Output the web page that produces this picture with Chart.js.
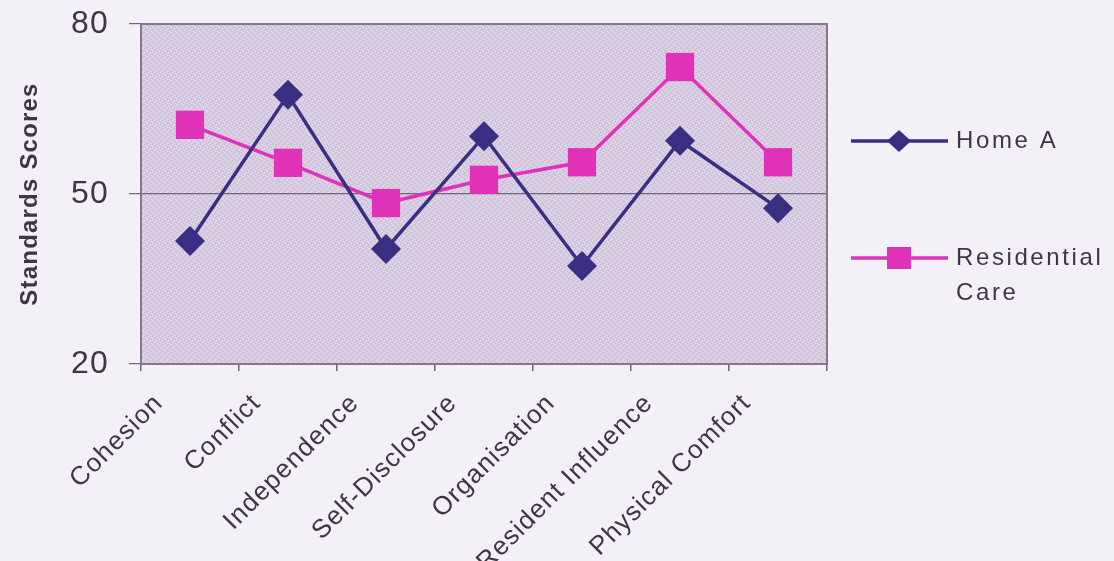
<!DOCTYPE html>
<html>
<head>
<meta charset="utf-8">
<script src="https://cdn.jsdelivr.net/npm/chart.js@4.4.1/dist/chart.umd.min.js"></script>
<style>
  html, body { margin: 0; padding: 0; background: #f3f0f8; }
  #wrap { width: 1114px; height: 561px; }
</style>
</head>
<body>
<div id="wrap"><canvas id="c" width="1114" height="561"></canvas></div>
<script>
// Scale categories and the two series of standard scores
const categories = ['Cohesion', 'Conflict', 'Independence', 'Self-Disclosure', 'Organisation', 'Resident Influence', 'Physical Comfort'];
const homeA = [41.7, 67.5, 40.3, 60.2, 37.3, 59.4, 47.5];
const residentialCare = [62.2, 55.5, 48.4, 52.5, 55.6, 72.4, 55.6];
const seriesNames = ['Home A', 'Residential Care'];
const yTicks = [20, 50, 80];

const textColor = '#413447';
const navy = '#392e82';
const pink = '#e031b9';
const fontFamily = '"Liberation Sans", Arial, sans-serif';

// Small stippled tile for the plot area fill
function makeStipple(ctx) {
  const t = document.createElement('canvas');
  t.width = 6; t.height = 6;
  const g = t.getContext('2d');
  g.fillStyle = '#d7cbe1';
  g.fillRect(0, 0, 6, 6);
  const dark = [[0,0],[3,1],[1,3],[4,4],[5,2],[2,5]];
  const light = [[1,1],[4,0],[0,4],[3,3],[5,5],[2,2]];
  g.fillStyle = '#c8b9d3';
  dark.forEach(p => g.fillRect(p[0], p[1], 1, 1));
  g.fillStyle = '#e6ddee';
  light.forEach(p => g.fillRect(p[0], p[1], 1, 1));
  return ctx.createPattern(t, 'repeat');
}

const plotFrame = {
  id: 'plotFrame',
  beforeDraw(chart) {
    const { ctx, chartArea: a } = chart;
    // slightly spaced lettering for all axis text
    ctx.letterSpacing = '1.2px';
    ctx.save();
    ctx.fillStyle = makeStipple(ctx);
    ctx.fillRect(a.left, a.top, a.right - a.left, a.bottom - a.top);
    ctx.restore();
  },
  beforeDatasetsDraw(chart) {
    const { ctx, chartArea: a } = chart;
    ctx.save();
    ctx.strokeStyle = '#85768d';
    ctx.lineWidth = 2;
    ctx.strokeRect(a.left, a.top, a.right - a.left, a.bottom - a.top);
    ctx.restore();
  }
};

// Legend drawn at the right, wrapping long series names word by word
const sideLegend = {
  id: 'sideLegend',
  afterDraw(chart) {
    const { ctx } = chart;
    const rows = [141, 258];
    const lineX0 = 851, lineX1 = 948, markX = 899, textX = 956, lineGap = 35, maxW = 156;
    ctx.save();
    chart.data.datasets.forEach((ds, i) => {
      const y = rows[i];
      ctx.strokeStyle = ds.borderColor;
      ctx.lineWidth = 3.5;
      ctx.beginPath();
      ctx.moveTo(lineX0, y);
      ctx.lineTo(lineX1, y);
      ctx.stroke();
      ctx.fillStyle = ds.pointBackgroundColor;
      if (ds.pointStyle === 'rectRot') {
        ctx.beginPath();
        ctx.moveTo(markX, y - 11);
        ctx.lineTo(markX + 12, y);
        ctx.lineTo(markX, y + 11);
        ctx.lineTo(markX - 12, y);
        ctx.closePath();
        ctx.fill();
      } else {
        ctx.fillRect(markX - 12, y - 11, 24, 22);
      }
      ctx.font = '24px ' + fontFamily;
      ctx.letterSpacing = '2.6px';
      ctx.fillStyle = textColor;
      ctx.textAlign = 'left';
      ctx.textBaseline = 'middle';
      const words = ds.label.split(' ');
      const lines = [];
      let cur = '';
      words.forEach(w => {
        const test = cur ? cur + ' ' + w : w;
        if (cur && ctx.measureText(test).width > maxW) { lines.push(cur); cur = w; }
        else cur = test;
      });
      if (cur) lines.push(cur);
      lines.forEach((ln, k) => ctx.fillText(ln, textX, y + k * lineGap));
    });
    ctx.restore();
  }
};

new Chart(document.getElementById('c'), {
  type: 'line',
  data: {
    labels: categories,
    datasets: [
      {
        label: seriesNames[0],
        data: homeA,
        borderColor: navy,
        backgroundColor: navy,
        pointBackgroundColor: navy,
        pointBorderColor: navy,
        borderWidth: 3.5,
        pointStyle: 'rectRot',
        pointRadius: 15,
        pointBorderWidth: 0,
        tension: 0
      },
      {
        label: seriesNames[1],
        data: residentialCare,
        borderColor: pink,
        backgroundColor: pink,
        pointBackgroundColor: pink,
        pointBorderColor: pink,
        borderWidth: 3.5,
        pointStyle: 'rect',
        pointRadius: 20,
        pointBorderWidth: 0,
        tension: 0
      }
    ]
  },
  options: {
    responsive: false,
    animation: false,
    devicePixelRatio: 1,
    layout: { padding: { top: 24, right: 287, bottom: 0, left: 0 } },
    plugins: {
      legend: { display: false },
      tooltip: { enabled: false }
    },
    scales: {
      x: {
        type: 'category',
        offset: true,
        grid: {
          offset: true,
          drawOnChartArea: false,
          drawTicks: true,
          tickLength: 7,
          color: '#6f6478',
          lineWidth: 1.5
        },
        border: { display: false },
        ticks: {
          minRotation: 45,
          maxRotation: 45,
          autoSkip: false,
          labelOffset: -31,
          padding: 17,
          color: textColor,
          font: { family: fontFamily, size: 26 }
        },
        afterFit(scale) {
          scale.height = 197;
          scale.paddingLeft = 0;
          scale.paddingRight = 0;
        }
      },
      y: {
        min: 20,
        max: 80,
        afterBuildTicks(scale) {
          scale.ticks = yTicks.map(v => ({ value: v }));
        },
        grid: {
          drawOnChartArea: true,
          drawTicks: true,
          tickLength: 12,
          color: '#70667a',
          lineWidth: 1.2
        },
        border: { display: false },
        ticks: {
          padding: 20,
          color: textColor,
          font: { family: fontFamily, size: 32 }
        },
        title: {
          display: true,
          text: 'Standards Scores',
          color: textColor,
          padding: { top: 16, bottom: 0 },
          font: { family: fontFamily, size: 24, weight: 'bold' }
        },
        afterFit(scale) {
          scale.width = 141;
          scale.paddingTop = 0;
          scale.paddingBottom = 0;
        }
      }
    }
  },
  plugins: [plotFrame, sideLegend]
});
</script>
</body>
</html>
